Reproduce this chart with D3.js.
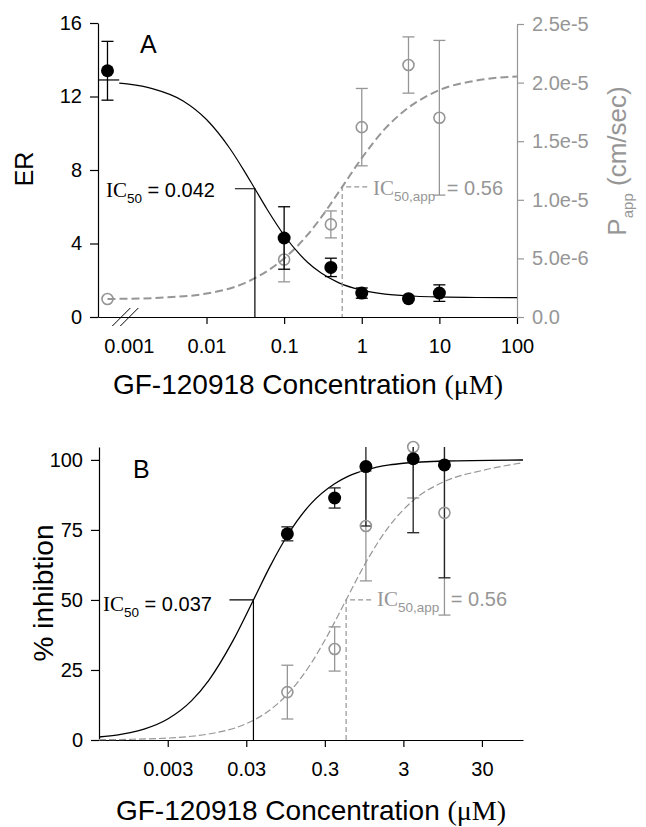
<!DOCTYPE html>
<html>
<head>
<meta charset="utf-8">
<script src="https://cdn.jsdelivr.net/npm/d3@7"></script>
<style>
  body { margin: 0; background: #fff; }
  text { font-family: "Liberation Sans", Arial, sans-serif; }
</style>
</head>
<body>
<div id="chart"></div>
<script>
// ---- Panel A data (ER and Papp vs concentration) ----
const concA = [0.00053, 0.1, 0.4, 1, 4, 10];
const erMean = [13.4, 4.3, 2.7, 1.3, 1.0, 1.3];
const erErr = [1.6, 1.7, 0.5, 0.28, 0, 0.45];
const pappMean = [1.54e-6, 4.9e-6, 7.9e-6, 16.2e-6, 21.5e-6, 17.0e-6];
const pappErr = [0, 1.9e-6, 1.15e-6, 3.3e-6, 2.4e-6, 6.6e-6];

// fitted curves
const fitErX = [0.00075, 0.001, 0.002, 0.005, 0.01, 0.02, 0.03, 0.042, 0.06, 0.1, 0.2, 0.3, 0.5, 1, 2, 5, 10, 30, 100];
const fitErY = [12.73, 12.67, 12.43, 11.76, 10.75, 9.17, 8.01, 6.98, 5.88, 4.45, 2.98, 2.39, 1.87, 1.46, 1.25, 1.13, 1.09, 1.06, 1.05];
const fitPappX = [0.00053, 0.001, 0.003, 0.01, 0.03, 0.1, 0.2, 0.3, 0.56, 1, 2, 3, 10, 30, 100];
const fitPappY = [1.54e-6, 1.56e-6, 1.67e-6, 2.0e-6, 2.85e-6, 5.0e-6, 7.0e-6, 8.5e-6, 1.11e-5, 1.356e-5, 1.607e-5, 1.72e-5, 1.936e-5, 2.018e-5, 2.053e-5];
const erTopX = [0.0004, 0.00075];
const erTop = 12.9;

const ic50A = 0.042, ic50HalfA = 6.98;
const ic50AppA = 0.56, ic50AppHalfA = 1.11e-5;

const xTicksA = [0.001, 0.01, 0.1, 1, 10, 100];
const xLabelsA = ["0.001", "0.01", "0.1", "1", "10", "100"];
const erTicks = [0, 4, 8, 12, 16];
const pappTicks = [0, 5e-6, 1e-5, 1.5e-5, 2e-5, 2.5e-5];

// ---- Panel B data (% inhibition) ----
const concB = [0.1, 0.4, 1, 4, 10];
const inhMean = [73.6, 86.4, 97.6, 100.4, 98.2];
const inhErr = [2.5, 3.6, 21.2, 26.4, 40.3];
const inhAppMean = [17.1, 32.5, 76.4, 104.6, 81.1];
const inhAppErr = [9.6, 7.9, 19.6, 18.2, 36.5];

const fitInhX = [0.0004, 0.0007, 0.001, 0.0015, 0.003, 0.006, 0.01, 0.02, 0.037, 0.06, 0.1, 0.2, 0.4, 0.6, 1, 2, 3, 10, 100];
const fitInhY = [1.07, 1.86, 2.63, 3.9, 7.5, 13.96, 21.3, 35.1, 50, 61.9, 73.0, 84.4, 91.5, 94.2, 96.4, 98.2, 98.8, 99.6, 99.96];
const fitInhAppX = [0.0004, 0.001, 0.003, 0.006, 0.01, 0.03, 0.05, 0.1, 0.2, 0.3, 0.56, 1, 2, 4, 10, 30, 100];
const fitInhAppY = [0.1, 0.24, 0.69, 1.33, 2.14, 5.84, 9.15, 16.3, 27.3, 35.6, 50, 63.4, 76.5, 85.5, 92.3, 96.2, 99.0];

const ic50B = 0.037, ic50AppB = 0.56, halfB = 50;

const xTicksB = [0.003, 0.03, 0.3, 3, 30];
const inhTicks = [0, 25, 50, 75, 100];

const GRAY = "#969696";
const SERIF = "'Liberation Serif', 'Times New Roman', serif";

const svg = d3.select("#chart").append("svg")
    .attr("width", 646).attr("height", 827);

function styleAxis(g, color) {
    g.select(".domain").attr("stroke", color).attr("stroke-width", 1.2);
    g.selectAll(".tick line").attr("stroke", color).attr("stroke-width", 1.2);
    g.selectAll(".tick text").attr("fill", color)
        .style("font-size", "20px").style("font-family", "'Liberation Sans', Arial, sans-serif");
}

function errorBars(g, xs, means, errs, x, y, color, cap) {
    const rows = d3.zip(xs, means, errs).filter(r => r[2] > 0);
    const bars = g.append("g").selectAll("g").data(rows).enter().append("g")
        .attr("stroke", color).attr("stroke-width", 1.3);
    bars.append("line")
        .attr("x1", r => x(r[0])).attr("x2", r => x(r[0]))
        .attr("y1", r => y(r[1] - r[2])).attr("y2", r => y(r[1] + r[2]));
    bars.append("line")
        .attr("x1", r => x(r[0]) - cap).attr("x2", r => x(r[0]) + cap)
        .attr("y1", r => y(r[1] + r[2])).attr("y2", r => y(r[1] + r[2]));
    bars.append("line")
        .attr("x1", r => x(r[0]) - cap).attr("x2", r => x(r[0]) + cap)
        .attr("y1", r => y(r[1] - r[2])).attr("y2", r => y(r[1] - r[2]));
}

function icLabel(g, x, y, sub, value, color, gap) {
    const t = g.append("text").attr("x", x).attr("y", y).attr("fill", color)
        .style("font-size", "20px");
    t.append("tspan").style("font-family", SERIF).style("font-size", "21px").text("IC");
    t.append("tspan").attr("dy", 6).style("font-size", "13.5px").text(sub);
    t.append("tspan").attr("dy", -6).attr("dx", gap).text(" = " + value);
}

function axisTitle(g, x, y, size) {
    const t = g.append("text").attr("x", x).attr("y", y).attr("text-anchor", "middle")
        .style("font-size", size + "px");
    t.append("tspan").text("GF-120918 Concentration ");
    t.append("tspan").style("font-family", SERIF).text("(\u03bcM)");
}

// =================== PANEL A ===================
const xA = d3.scaleLog().domain([0.0004, 100]).range([98, 517]);
const yA = d3.scaleLinear().domain([0, 16]).range([317, 23]);
const yA2 = d3.scaleLinear().domain([0, 2.5e-5]).range([317, 24]);
const gA = svg.append("g");

const axA = gA.append("g").attr("transform", "translate(0,317)")
    .call(d3.axisBottom(xA).tickValues(xTicksA)
        .tickFormat((d, i) => xLabelsA[i]).tickSize(7).tickSizeOuter(0).tickPadding(15));
styleAxis(axA, "#000");
axA.selectAll(".tick").filter(d => d === 0.001).select("line").remove();

const ayA = gA.append("g").attr("transform", "translate(98,0)")
    .call(d3.axisLeft(yA).tickValues(erTicks).tickSize(8).tickSizeOuter(0).tickPadding(8));
styleAxis(ayA, "#000");

const ayA2 = gA.append("g").attr("transform", "translate(517,0)")
    .call(d3.axisRight(yA2).tickValues(pappTicks)
        .tickFormat(d => d === 0 ? "0.0" : d3.format(".1e")(d))
        .tickSize(7).tickSizeOuter(0).tickPadding(8));
styleAxis(ayA2, GRAY);

// axis break
const brk = xA(0.0009);
[-4, 4].forEach(o => {
    gA.append("line")
        .attr("x1", brk + o - 9).attr("y1", 326)
        .attr("x2", brk + o + 9).attr("y2", 308)
        .attr("stroke", "#000").attr("stroke-width", 1);
});

// fitted curves
const lineA2 = d3.line().x(d => xA(d[0])).y(d => yA2(d[1])).curve(d3.curveMonotoneX);
gA.append("path").datum(d3.zip(fitPappX, fitPappY))
    .attr("d", lineA2).attr("fill", "none").attr("stroke", GRAY)
    .attr("stroke-width", 2).attr("stroke-dasharray", "8,4");

const lineA = d3.line().x(d => xA(d[0])).y(d => yA(d[1])).curve(d3.curveMonotoneX);
gA.append("path").datum(d3.zip(fitErX, fitErY))
    .attr("d", lineA).attr("fill", "none").attr("stroke", "#000").attr("stroke-width", 1.2);
gA.append("line")
    .attr("x1", xA(erTopX[0])).attr("x2", xA(erTopX[1]))
    .attr("y1", yA(erTop)).attr("y2", yA(erTop))
    .attr("stroke", "#000").attr("stroke-width", 1.2);

// IC50 markers
gA.append("path")
    .attr("d", `M${xA(ic50A) - 20},${yA(ic50HalfA)}H${xA(ic50A)}V${yA(0)}`)
    .attr("fill", "none").attr("stroke", "#000").attr("stroke-width", 1.2);
gA.append("path")
    .attr("d", `M${xA(ic50AppA) + 25},${yA2(ic50AppHalfA)}H${xA(ic50AppA)}V${yA2(0)}`)
    .attr("fill", "none").attr("stroke", GRAY).attr("stroke-width", 1.2)
    .attr("stroke-dasharray", "5,3");

// points
errorBars(gA, concA, pappMean, pappErr, xA, yA2, GRAY, 6);
gA.append("g").selectAll("circle").data(d3.zip(concA, pappMean)).enter().append("circle")
    .attr("cx", d => xA(d[0])).attr("cy", d => yA2(d[1])).attr("r", 5.5)
    .attr("fill", "none").attr("stroke", GRAY).attr("stroke-width", 1.6);
errorBars(gA, concA, erMean, erErr, xA, yA, "#000", 6);
gA.append("g").selectAll("circle").data(d3.zip(concA, erMean)).enter().append("circle")
    .attr("cx", d => xA(d[0])).attr("cy", d => yA(d[1])).attr("r", 6.5)
    .attr("fill", "#000");

icLabel(gA, 106, 197, "50", "0.042", "#000", 0);
icLabel(gA, 373, 195, "50,app", "0.56", GRAY, 6);

gA.append("text").attr("x", 140).attr("y", 53).style("font-size", "25px").text("A");
gA.append("text").attr("transform", "translate(33,169) rotate(-90)")
    .attr("text-anchor", "middle").style("font-size", "25px").text("ER");
const pt = gA.append("text").attr("transform", "translate(626,161) rotate(-90)")
    .attr("text-anchor", "middle").attr("fill", GRAY).style("font-size", "26px");
pt.append("tspan").text("P");
pt.append("tspan").attr("dy", 7).style("font-size", "15px").text("app");
pt.append("tspan").attr("dy", -7).text(" (cm/sec)");
axisTitle(gA, 308, 394, 28);

// =================== PANEL B ===================
const xB = d3.scaleLog().domain([0.0004, 100]).range([99, 523]);
const yB = d3.scaleLinear().domain([0, 104.6]).range([740, 447]);
const gB = svg.append("g");

svg.append("defs").append("clipPath").attr("id", "clipB")
    .append("rect").attr("x", 99).attr("y", 447).attr("width", 424).attr("height", 293);

const axB = gB.append("g").attr("transform", "translate(0,740)")
    .call(d3.axisBottom(xB).tickValues(xTicksB).tickFormat(d3.format("~g"))
        .tickSize(7).tickSizeOuter(0).tickPadding(15));
styleAxis(axB, "#000");
const ayB = gB.append("g").attr("transform", "translate(99,0)")
    .call(d3.axisLeft(yB).tickValues(inhTicks).tickSize(8).tickSizeOuter(0).tickPadding(8));
styleAxis(ayB, "#000");

const lineB = d3.line().x(d => xB(d[0])).y(d => yB(d[1])).curve(d3.curveMonotoneX);
gB.append("path").datum(d3.zip(fitInhAppX, fitInhAppY))
    .attr("d", lineB).attr("fill", "none").attr("stroke", GRAY)
    .attr("stroke-width", 1.2).attr("stroke-dasharray", "7,3");
gB.append("path").datum(d3.zip(fitInhX, fitInhY))
    .attr("d", lineB).attr("fill", "none").attr("stroke", "#000").attr("stroke-width", 1.3);

gB.append("path")
    .attr("d", `M${xB(ic50B) - 24},${yB(halfB)}H${xB(ic50B)}V${yB(0)}`)
    .attr("fill", "none").attr("stroke", "#000").attr("stroke-width", 1.2);
gB.append("path")
    .attr("d", `M${xB(ic50AppB) + 25},${yB(halfB)}H${xB(ic50AppB)}V${yB(0)}`)
    .attr("fill", "none").attr("stroke", GRAY).attr("stroke-width", 1.2)
    .attr("stroke-dasharray", "5,3");

const barsB = gB.append("g").attr("clip-path", "url(#clipB)");
errorBars(barsB, concB, inhAppMean, inhAppErr, xB, yB, GRAY, 6);
errorBars(barsB, concB, inhMean, inhErr, xB, yB, "#222", 6);
gB.append("g").selectAll("circle").data(d3.zip(concB, inhAppMean)).enter().append("circle")
    .attr("cx", d => xB(d[0])).attr("cy", d => yB(d[1])).attr("r", 5.5)
    .attr("fill", "none").attr("stroke", GRAY).attr("stroke-width", 1.6);
gB.append("g").selectAll("circle").data(d3.zip(concB, inhMean)).enter().append("circle")
    .attr("cx", d => xB(d[0])).attr("cy", d => yB(d[1])).attr("r", 6.5)
    .attr("fill", "#000");

icLabel(gB, 103, 611, "50", "0.037", "#000", 0);
icLabel(gB, 377, 606, "50,app", "0.56", GRAY, 6);

gB.append("text").attr("x", 133).attr("y", 478).style("font-size", "25px").text("B");
gB.append("text").attr("transform", "translate(53,593) rotate(-90)")
    .attr("text-anchor", "middle").style("font-size", "28px").text("% inhibtion");
axisTitle(gB, 311, 820, 28);
</script>
</body>
</html>
